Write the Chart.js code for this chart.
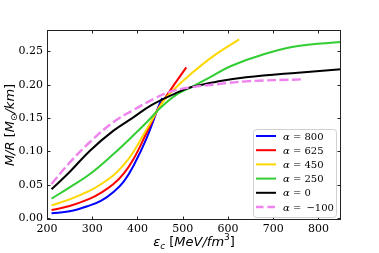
<!DOCTYPE html>
<html>
<head>
<meta charset="utf-8">
<script src="https://cdn.jsdelivr.net/npm/chart.js@4.4.0/dist/chart.umd.min.js"></script>
<style>
  html, body { margin: 0; padding: 0; background: #fff; }
  #wrap { width: 379px; height: 253px; }
</style>
</head>
<body>
<div id="wrap"><canvas id="mrChart" width="379" height="253"></canvas></div>
<script>
// ─── Data ────────────────────────────────────────────────────────────────────
const X_TICKS = [200, 300, 400, 500, 600, 700, 800];
const Y_TICKS = [0.00, 0.05, 0.10, 0.15, 0.20, 0.25];

const EC_800 = [210, 250, 295, 320, 347, 370, 391, 421, 450, 455];
const MR_800 = [0.007, 0.010, 0.019, 0.026, 0.039, 0.055, 0.078, 0.121, 0.173, 0.180];

const EC_625 = [210, 250, 295, 320, 347, 370, 391, 421, 445, 474, 508];
const MR_625 = [0.012, 0.018, 0.029, 0.038, 0.051, 0.067, 0.088, 0.129, 0.163, 0.193, 0.226];

const EC_450 = [210, 250, 295, 320, 347, 370, 391, 421, 458, 481, 518, 570, 625];
const MR_450 = [0.019, 0.028, 0.041, 0.051, 0.064, 0.080, 0.099, 0.134, 0.176, 0.193, 0.216, 0.244, 0.268];

const EC_250 = [210, 250, 295, 347, 391, 421, 452, 484, 518, 560, 607, 681, 755, 850];
const MR_250 = [0.029, 0.046, 0.066, 0.096, 0.124, 0.144, 0.166, 0.184, 0.196, 0.211, 0.228, 0.246, 0.258, 0.264];

const EC_0 = [210, 250, 295, 347, 391, 430, 484, 518, 580, 640, 755, 850];
const MR_0 = [0.043, 0.069, 0.101, 0.131, 0.151, 0.169, 0.187, 0.196, 0.205, 0.211, 0.218, 0.223];

const EC_M100 = [210, 250, 295, 347, 391, 437, 470, 518, 580, 640, 765];
const MR_M100 = [0.051, 0.083, 0.114, 0.144, 0.162, 0.179, 0.189, 0.196, 0.201, 0.205, 0.208];

const ALPHAS = ['800', '625', '450', '250', '0', '\u2212100'];

// ─── Helpers ─────────────────────────────────────────────────────────────────
const pts = (xs, ys) => xs.map((x, i) => ({ x: x, y: ys[i] }));

function series(idx, xs, ys, color, dash) {
  return {
    label: ALPHAS[idx],
    data: pts(xs, ys),
    borderColor: color,
    borderWidth: dash ? 2.4 : 2,
    borderDash: dash || [],
    pointRadius: 0,
    fill: false,
    tension: 0.4,
    order: 5 - idx,
  };
}

// draw a run of text pieces: [text, font, dy]
function drawRich(ctx, parts, x, y, align) {
  let total = 0;
  parts.forEach(p => { ctx.font = p[1]; total += ctx.measureText(p[0]).width; });
  let cx = align === 'center' ? x - total / 2 : x;
  ctx.textAlign = 'left';
  ctx.textBaseline = 'alphabetic';
  parts.forEach(p => {
    ctx.font = p[1];
    ctx.fillText(p[0], cx, y + (p[2] || 0));
    cx += ctx.measureText(p[0]).width;
  });
}

const SANS_I = 'italic 13px "DejaVu Sans"';
const SANS = '13px "DejaVu Sans"';
const SANS_SM = '9px "DejaVu Sans"';
const SANS_SM_I = 'italic 9px "DejaVu Sans"';
const SERIF = '10px "DejaVu Serif"';
const SERIF_I = 'italic 10px "DejaVu Serif"';

// ─── Frame, inward ticks, axis titles, legend ────────────────────────────────
const decorPlugin = {
  id: 'decor',
  afterDatasetsDraw(chart) {
    const { ctx, chartArea: a, scales } = chart;
    const xs = scales.x, ys = scales.y;
    const L = 3.5;
    ctx.save();
    ctx.strokeStyle = '#222';
    ctx.lineWidth = 1;
    ctx.strokeRect(Math.round(a.left) + 0.5, Math.round(a.top) + 0.5,
                   Math.round(a.right - a.left) - 1, Math.round(a.bottom - a.top) - 1);
    ctx.beginPath();
    X_TICKS.forEach(v => {
      const px = Math.round(xs.getPixelForValue(v)) + 0.5;
      ctx.moveTo(px, a.bottom); ctx.lineTo(px, a.bottom - L);
      ctx.moveTo(px, a.top); ctx.lineTo(px, a.top + L);
    });
    Y_TICKS.forEach(v => {
      const py = Math.round(ys.getPixelForValue(v)) + 0.5;
      ctx.moveTo(a.left, py); ctx.lineTo(a.left + L, py);
      ctx.moveTo(a.right, py); ctx.lineTo(a.right - L, py);
    });
    ctx.stroke();

    // axis titles
    ctx.fillStyle = '#000';
    drawRich(ctx, [
      ['\u03b5', SANS_I], ['c', SANS_SM_I, 3], [' [', SANS], ['MeV/fm', SANS_I],
      ['3', SANS_SM, -6], [']', SANS]
    ], (a.left + a.right) / 2, 246, 'center');

    ctx.save();
    ctx.translate(14, (a.top + a.bottom) / 2);
    ctx.rotate(-Math.PI / 2);
    drawRich(ctx, [
      ['M/R', SANS_I], [' [', SANS], ['M', SANS_I], ['\u2299', SANS_SM, 3],
      ['/km', SANS_I], [']', SANS]
    ], 0, 0, 'center');
    ctx.restore();

    // legend box
    const bx = 253, by = 129, bw = 83, bh = 88;
    ctx.fillStyle = 'rgba(255,255,255,0.85)';
    ctx.strokeStyle = '#d0d0d0';
    ctx.beginPath();
    ctx.roundRect(bx + 0.5, by + 0.5, bw, bh, 3);
    ctx.fill();
    ctx.stroke();
    chart.data.datasets.forEach((ds, i) => {
      const yy = by + 7 + i * 14.2;
      ctx.strokeStyle = ds.borderColor;
      ctx.lineWidth = ds.borderWidth;
      ctx.setLineDash(ds.borderDash.length ? [7.5, 4] : []);
      ctx.beginPath();
      ctx.moveTo(256, yy); ctx.lineTo(276, yy);
      ctx.stroke();
      ctx.setLineDash([]);
      ctx.fillStyle = '#000';
      const sep = ds.label.startsWith('\u2212') ? ' = \u2009' : ' = ';
      drawRich(ctx, [['\u03b1', SERIF_I], [sep + ds.label, SERIF]], 283, yy + 3.5, 'left');
    });
    ctx.restore();
  }
};

// ─── Chart ───────────────────────────────────────────────────────────────────
function initChart() {
  const el = document.getElementById('mrChart');
  new Chart(el, {
    type: 'line',
    data: {
      datasets: [
        series(0, EC_800, MR_800, '#0000ff'),
        series(1, EC_625, MR_625, '#ff0000'),
        series(2, EC_450, MR_450, '#ffd700'),
        series(3, EC_250, MR_250, '#32cd32'),
        series(4, EC_0, MR_0, '#000000'),
        series(5, EC_M100, MR_M100, '#ee82ee', [9, 3.5]),
      ],
    },
    options: {
      responsive: false,
      animation: false,
      events: [],
      layout: { padding: { top: 30, right: 38, left: 0, bottom: 0 } },
      plugins: { legend: { display: false }, tooltip: { enabled: false } },
      scales: {
        x: {
          type: 'linear',
          min: 200, max: 850,
          afterBuildTicks: (s) => { s.ticks = X_TICKS.map(v => ({ value: v })); },
          afterFit: (s) => { s.height = 33; },
          grid: { display: false, drawTicks: false, tickLength: 0 },
          border: { display: false },
          ticks: {
            padding: 3,
            color: '#000',
            maxRotation: 0,
            font: { family: 'DejaVu Serif', size: 11 },
            callback: (v) => String(v),
          },
        },
        y: {
          type: 'linear',
          min: -0.003, max: 0.282,
          afterBuildTicks: (s) => { s.ticks = Y_TICKS.map(v => ({ value: v })); },
          afterFit: (s) => { s.width = 47; },
          grid: { display: false, drawTicks: false, tickLength: 0 },
          border: { display: false },
          ticks: {
            padding: 4,
            color: '#000',
            font: { family: 'DejaVu Serif', size: 11 },
            callback: (v) => Number(v).toFixed(2),
          },
        },
      },
    },
    plugins: [decorPlugin],
  });
}

initChart();
</script>
</body>
</html>
